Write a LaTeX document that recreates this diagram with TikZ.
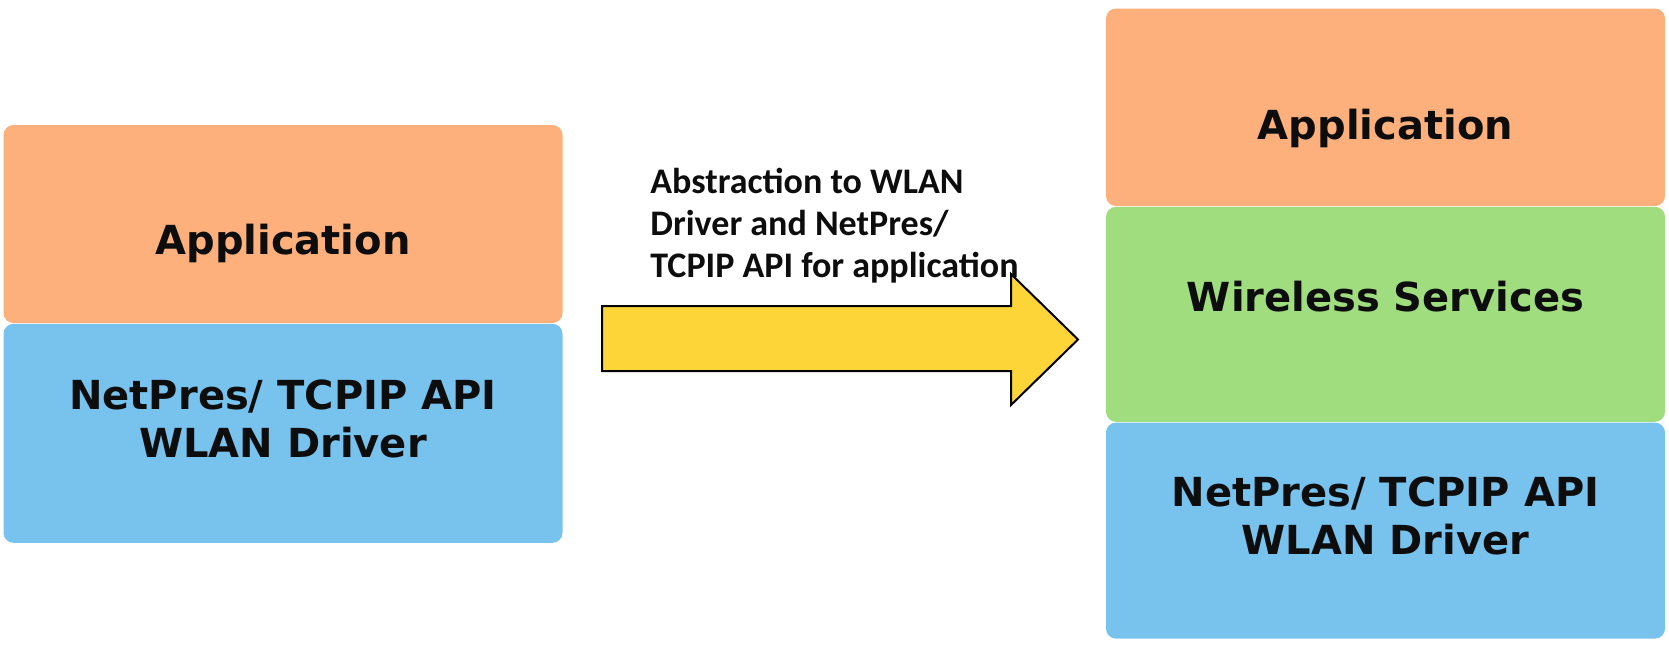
\documentclass[tikz,border=0pt]{standalone}
\usepackage{fontspec}
\setmainfont{DejaVu Sans}
\newfontfamily\notefont{Carlito}
\usetikzlibrary{positioning}

\definecolor{apporange}{HTML}{FDB07B}
\definecolor{wsgreen}{HTML}{9FDD7F}
\definecolor{netblue}{HTML}{78C3EE}
\definecolor{arrowyellow}{HTML}{FED538}
\definecolor{inkblack}{HTML}{0D0D0D}

\begin{document}
\begin{tikzpicture}[
	x=0.5pt, y=-0.5pt,
	layer/.style={rectangle, rounded corners=5pt, inner sep=0pt, minimum width=279.5pt},
	layertext/.style={anchor=base, text=inkblack, align=center, font=\bfseries\fontsize{20pt}{24pt}\selectfont},
	note/.style={anchor=north west, inner sep=0pt, text=inkblack, align=left, font=\notefont\bfseries\fontsize{18pt}{21pt}\selectfont},
	bigarrow/.style={draw=black, line width=1pt, fill=arrowyellow},
	]
	\useasboundingbox (0,0) rectangle (1669,650);
	
	% old stack
	\node [layer, fill=apporange, minimum height=99pt] (leftapp) at (283,224) {};
	\node [layer, fill=netblue, minimum height=109.5pt, below=0pt of leftapp] (leftnet) {};
	\node [layertext] (leftapptext) at (283,254) {Application};
	\node [layertext] (leftnettext) at (283,457) {NetPres/ TCPIP API\\WLAN Driver};
	
	% arrow
	\draw [bigarrow] (602,306) -- (1011,306) -- (1011,274) -- (1078,339.5) -- (1011,405) -- (1011,371) -- (602,371) -- cycle;
	\node [note] (abstraction) at (650,168) {Abstraction to WLAN\\Driver and NetPres/\\TCPIP API for application};
	
	% new stack
	\node [layer, fill=apporange, minimum height=98.75pt] (rightapp) at (1385.5,107.25) {};
	\node [layer, fill=wsgreen, minimum height=107.5pt, below=0pt of rightapp] (rightws) {};
	\node [layer, fill=netblue, minimum height=108pt, below=0pt of rightws] (rightnet) {};
	\node [layertext] (rightapptext) at (1385.5,139) {Application};
	\node [layertext] (rightwstext) at (1385.5,311) {Wireless Services};
	\node [layertext] (rightnettext) at (1385.5,554) {NetPres/ TCPIP API\\WLAN Driver};
\end{tikzpicture}
\end{document}
